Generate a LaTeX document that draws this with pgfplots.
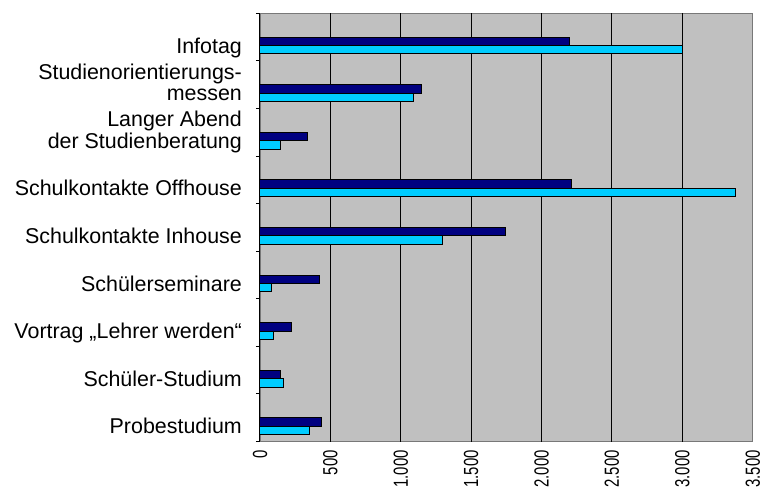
\documentclass[border=0pt]{standalone}
\usepackage{pgfplots}
\pgfplotsset{compat=1.18}
\usepackage{fontspec}
\setmainfont{Liberation Sans}

\definecolor{plotgray}{HTML}{C0C0C0}
\definecolor{framegray}{HTML}{787878}
\definecolor{navybar}{HTML}{000080}
\definecolor{cyanbar}{HTML}{00CCFF}

% narrow digits for the value axis
\newcommand\tnum[1]{\scalebox{0.73}[1]{#1}}

\begin{document}
\begin{tikzpicture}
\useasboundingbox (-261pt,-49pt) rectangle (506pt,443.3pt);
\begin{axis}[
  at={(0,0)}, anchor=south west,
  scale only axis,
  width=494.7pt, height=430pt,
  xmin=0, xmax=3500,
  ymin=0, ymax=9,
  y dir=reverse,
  axis line style={draw=none},
  axis background/.style={fill=plotgray, draw=framegray, line width=1.2pt},
  % vertical grid lines at 0 ... 3000, the last tick without a grid line
  xtick={0,500,1000,1500,2000,2500,3000},
  xticklabels={\tnum{0},\tnum{500},\tnum{1.000},\tnum{1.500},
    \tnum{2.000},\tnum{2.500},\tnum{3.000}},
  extra x ticks={3500},
  extra x tick labels={\tnum{3.500}},
  extra x tick style={grid=none},
  xmajorgrids,
  grid style={black, line width=1pt},
  major tick length=0pt,
  xtick pos=bottom,
  xticklabel style={rotate=90, anchor=east, inner sep=0pt,
    font=\fontsize{20.5}{20.5}\selectfont},
  xticklabel shift=8.5pt,
  % category labels at the centre of each pair of bars
  ytick={0.678,1.678,2.678,3.678,4.678,5.678,6.678,7.678,8.678},
  yticklabels={
    Infotag,
    {Studienorientierungs-\\messen},
    {Langer Abend\\der Studienberatung},
    Schulkontakte Offhouse,
    Schulkontakte Inhouse,
    Schülerseminare,
    {Vortrag „Lehrer werden“},
    Schüler-Studium,
    Probestudium},
  ytick pos=left,
  yticklabel style={anchor=base east, align=right, inner sep=0pt,
    font=\fontsize{21.5}{21.7}\selectfont, xshift=-18pt, yshift=-7.6pt},
  % small marks between the categories
  extra y ticks={0,1,2,3,4,5,6,7,8,9},
  extra y tick labels={},
  extra y tick style={major tick length=4pt, tick align=outside,
    tick style={black, line width=1pt}, grid=none},
  clip=false,
]
\addplot[xbar, bar width=8.4pt, bar shift=0pt, fill=navybar, draw=black, line width=1pt]
  coordinates {
    (2200,0.590) (1150,1.590) (340,2.590) (2215,3.590) (1745,4.590)
    (420,5.590) (225,6.590) (145,7.590) (435,8.590)
  };
\addplot[xbar, bar width=8.4pt, bar shift=0pt, fill=cyanbar, draw=black, line width=1pt]
  coordinates {
    (3000,0.768) (1090,1.768) (145,2.768) (3380,3.768) (1295,4.768)
    (80,5.768) (95,6.768) (170,7.768) (355,8.768)
  };
\end{axis}
\end{tikzpicture}
\end{document}
